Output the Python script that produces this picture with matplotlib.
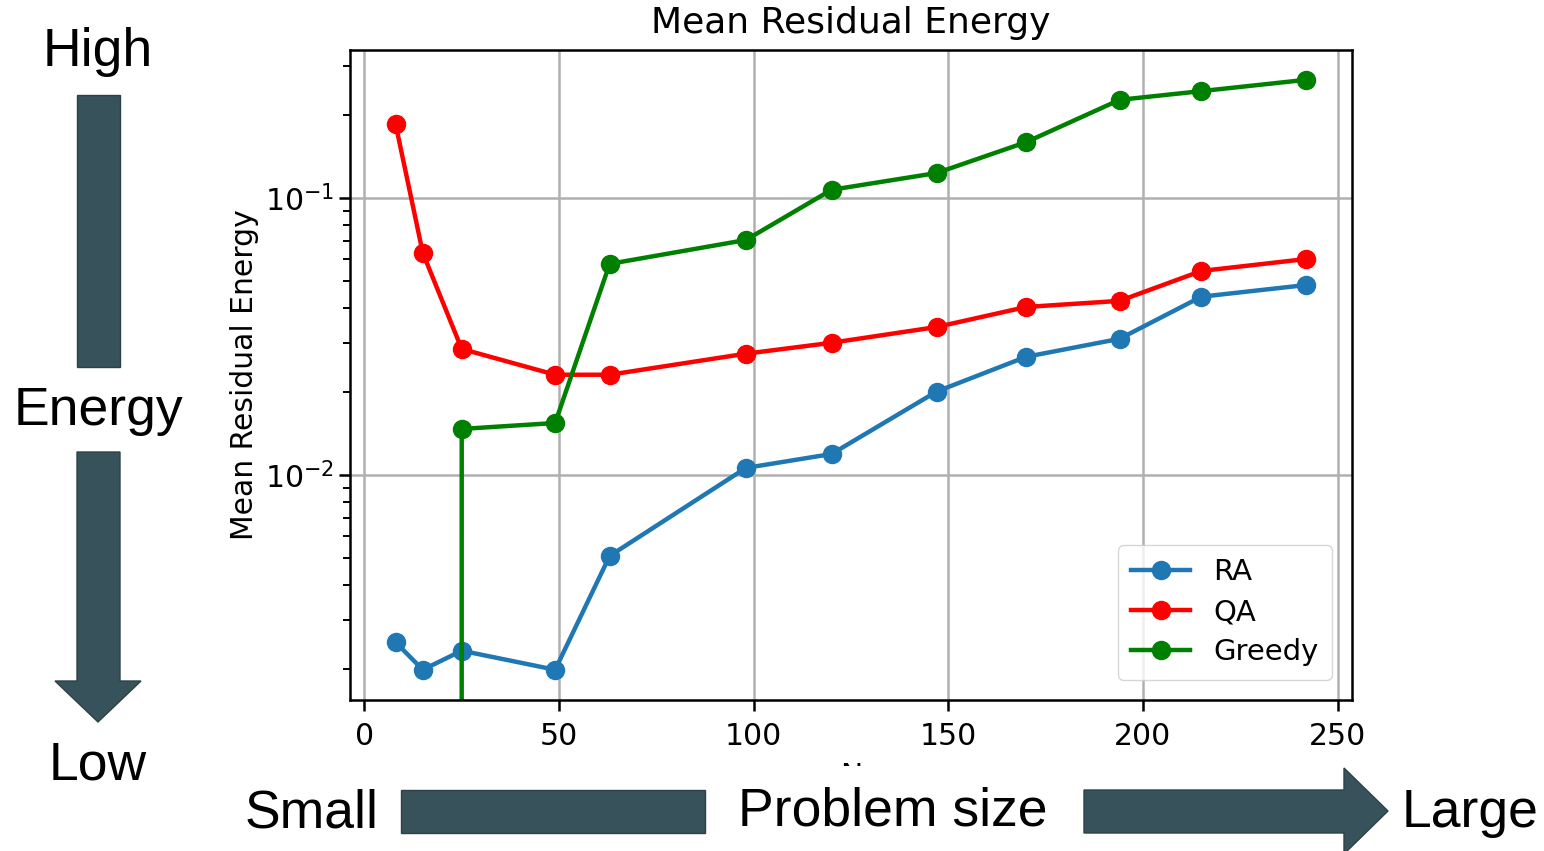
import numpy as np
import matplotlib
matplotlib.use("Agg")
import matplotlib.pyplot as plt
from matplotlib.patches import Polygon, Rectangle

# problem sizes N
N = [8, 15, 25, 49, 63, 98, 120, 147, 170, 194, 215, 242]

# mean residual energy
ra = [0.00249, 0.00198, 0.00232, 0.00198, 0.0051, 0.0106, 0.0119, 0.0200, 0.0267, 0.0310, 0.0440, 0.0485]
qa = [0.185, 0.0633, 0.0285, 0.0230, 0.0230, 0.0274, 0.0300, 0.0342, 0.0404, 0.0425, 0.0545, 0.0602]
greedy = [0.0, 0.0, 0.01466, 0.0154, 0.0578, 0.0705, 0.107, 0.123, 0.159, 0.226, 0.243, 0.267]

W, H = 1544, 851
fig = plt.figure(figsize=(W/100, H/100), dpi=100)

ax = fig.add_axes([350/W, 1-700/H, 1002/W, 650/H])
ax.set_yscale('log')
ax.plot(N, ra, marker='o', color='tab:blue', lw=3.2, ms=13, label='RA')
ax.plot(N, qa, marker='o', color='red', lw=3.2, ms=13, label='QA')
ax.plot(N, greedy, marker='o', color='green', lw=3.2, ms=13, label='Greedy')
ax.set_xlim(-3.7, 253.7)
ax.set_ylim(0.00154, 0.342)
ax.grid(True, color='#b0b0b0', lw=1.8)
ax.set_title('Mean Residual Energy', fontsize=26, pad=12)
ax.set_ylabel('Mean Residual Energy', fontsize=21.5)
ax.set_xlabel('N', fontsize=21.5, labelpad=8)
ax.tick_params(labelsize=21.5, width=1.8, length=8)
ax.tick_params(axis='x', pad=8)
ax.tick_params(which='minor', width=1.4, length=5)
for s in ax.spines.values():
    s.set_linewidth(1.8)
ax.legend(loc='lower right', fontsize=21, borderpad=0.45, labelspacing=0.42,
          handlelength=2.0, borderaxespad=0.7)

# overlay for the arrow annotations, in pixel coordinates
ov = fig.add_axes([0, 0, 1, 1], zorder=5)
ov.set_xlim(0, W)
ov.set_ylim(H, 0)
ov.axis('off')
ov.patch.set_alpha(0)

dark = '#37525a'
edge = '#2d4248'

# hide most of the N label
ov.add_patch(Rectangle((380, 766), 700, 90, facecolor='white', edgecolor='none'))

# vertical energy arrow
ov.add_patch(Rectangle((77, 95), 43, 272, facecolor=dark, edgecolor=edge, lw=1))
ov.add_patch(Polygon([(77, 452), (120, 452), (120, 681), (141, 681), (98, 722),
                      (55, 681), (77, 681)], closed=True, facecolor=dark, edgecolor=edge, lw=1))
txt = dict(family='Liberation Sans', fontsize=38.5, color='black', ha='center', va='center')
ov.text(98, 52, 'High', **txt)
ov.text(98, 411, 'Energy', **txt)
ov.text(98, 766, 'Low', **txt)

# horizontal problem size arrow
ov.add_patch(Rectangle((401, 790), 304, 43, facecolor=dark, edgecolor=edge, lw=1))
ov.add_patch(Polygon([(1084, 790), (1344, 790), (1344, 768), (1388, 811), (1344, 854),
                      (1344, 833), (1084, 833)], closed=True, facecolor=dark, edgecolor=edge, lw=1))
ov.text(312, 813, 'Small', **txt)
ov.text(893, 811, 'Problem size', **txt)
ov.text(1470, 813, 'Large', **txt)

fig.savefig('out.png', dpi=100)
